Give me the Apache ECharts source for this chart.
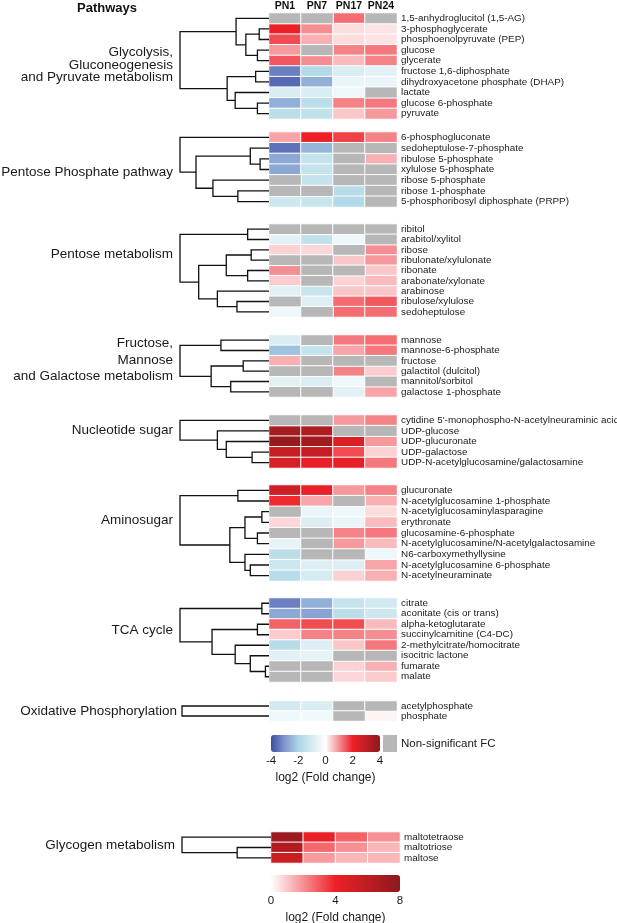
<!DOCTYPE html>
<html><head><meta charset="utf-8">
<script src="https://cdn.jsdelivr.net/npm/echarts@6/dist/echarts.min.js"></script>
<style>html,body{margin:0;padding:0;background:#fff}#c{width:617px;height:923px}</style>
</head><body><div id="c"></div>
<script>
const columns = ['PN1','PN7','PN17','PN24'];
const fcTicks = [-4,-2,0,2,4];
const glycogenTicks = [0,4,8];

const glycolysisNames = ['1,5-anhydroglucitol (1,5-AG)','3-phosphoglycerate','phosphoenolpyruvate (PEP)','glucose','glycerate','fructose 1,6-diphosphate','dihydroxyacetone phosphate (DHAP)','lactate','glucose 6-phosphate','pyruvate'];
const glycolysisFC = [
 [null,null,1.3,null],[2.0,1.0,0.3,0.25],[1.6,0.7,0.3,0.25],[0.9,null,1.1,1.2],[1.5,1.0,0.6,1.1],
 [-3.3,-1.8,-0.9,-0.7],[-3.6,-2.6,-0.5,-0.5],[-0.9,-0.9,-0.4,null],[-2.6,-1.6,1.1,1.2],[-1.6,-1.5,0.5,0.9]];
const glycolysisTree = [[1,2,0.11],[3,4,0.13],[10,11,0.26],[0,12,0.37],[5,6,0.15],[8,9,0.13],[7,15,0.38],[14,16,0.47],[13,17,1.0]];

const pppNames = ['6-phosphogluconate','sedoheptulose-7-phosphate','ribulose 5-phosphate','xylulose 5-phosphate','ribose 5-phosphate','ribose 1-phosphate','5-phosphoribosyl diphosphate (PRPP)'];
const pppFC = [[0.8,2.0,1.7,1.1],[-3.5,-2.5,null,null],[-2.7,-1.4,null,0.7],[-2.7,-1.4,null,null],[null,-1.4,null,null],[null,null,-1.7,null],[-1.2,-1.3,-1.8,null]];
const pppTree = [[2,3,0.10],[1,7,0.21],[5,6,0.35],[4,9,0.63],[8,10,0.82],[0,11,1.0]];

const pentoseNames = ['ribitol','arabitol/xylitol','ribose','ribulonate/xylulonate','ribonate','arabonate/xylonate','arabinose','ribulose/xylulose','sedoheptulose'];
const pentoseFC = [[null,null,null,null],[-0.7,-1.5,-0.4,null],[0.4,0.35,null,1.0],[null,null,0.5,0.9],[1.0,null,null,0.5],[0.45,null,0.4,0.6],[-0.7,-1.3,0.5,0.5],[null,-0.8,1.3,1.5],[-0.4,null,1.3,1.3]];
const pentoseTree = [[0,1,0.24],[2,3,0.20],[4,5,0.24],[10,11,0.48],[7,8,0.36],[6,13,0.58],[12,14,0.79],[9,15,1.0]];

const fructoseNames = ['mannose','mannose-6-phosphate','fructose','galactitol (dulcitol)','mannitol/sorbitol','galactose 1-phosphate'];
const fructoseFC = [[-0.9,null,1.2,1.3],[-2.3,-1.4,0.8,1.2],[0.7,null,null,null],[null,null,1.1,0.45],[-0.7,-0.9,-0.4,null],[null,null,-0.7,0.8]];
const fructoseTree = [[0,1,0.54],[2,3,0.29],[4,5,0.43],[7,8,0.65],[6,9,1.0]];

const nucleotideNames = ["cytidine 5'-monophospho-N-acetylneuraminic acid",'UDP-glucose','UDP-glucuronate','UDP-galactose','UDP-N-acetylglucosamine/galactosamine'];
const nucleotideFC = [[null,null,0.9,1.1],[3.5,3.3,null,null],[3.8,3.6,2.4,0.9],[2.9,2.9,1.6,0.4],[2.5,2.1,2.2,1.2]];
const nucleotideTree = [[3,4,0.19],[2,5,0.48],[1,6,0.58],[0,7,1.0]];

const aminoNames = ['glucuronate','N-acetylglucosamine 1-phosphate','N-acetylglucosaminylasparagine','erythronate','glucosamine-6-phosphate','N-acetylglucosamine/N-acetylgalactosamine','N6-carboxymethyllysine','N-acetylglucosamine 6-phosphate','N-acetylneuraminate'];
const aminoFC = [[2.7,2.1,0.9,1.1],[1.9,0.8,null,0.7],[null,-0.5,-0.4,0.3],[0.35,-0.8,-0.5,0.6],[null,null,1.1,1.2],[-0.6,null,0.9,0.6],[-1.6,null,null,-0.4],[-1.2,-0.8,-0.8,0.8],[-1.7,-1.0,0.4,0.7]];
const aminoTree = [[0,1,0.35],[2,3,0.08],[4,5,0.13],[10,11,0.27],[7,8,0.21],[6,13,0.27],[12,14,0.44],[9,15,1.0]];

const tcaNames = ['citrate','aconitate (cis or trans)','alpha-ketoglutarate','succinylcarnitine (C4-DC)','2-methylcitrate/homocitrate','isocitric lactone','fumarate','malate'];
const tcaFC = [[-3.3,-2.6,-1.4,-1.1],[-2.7,-2.8,-1.6,-1.2],[1.4,1.6,1.6,0.6],[0.45,1.1,1.1,1.0],[-1.7,-0.8,0.5,1.2],[-0.7,-0.6,null,null],[null,null,0.4,0.7],[null,null,0.35,0.45]];
const tcaTree = [[0,1,0.08],[2,3,0.13],[6,7,0.04],[5,10,0.21],[4,11,0.38],[9,12,0.64],[8,13,1.0]];

const oxphosNames = ['acetylphosphate','phosphate'];
const oxphosFC = [[-1.1,-0.9,null,null],[-0.4,-0.3,null,0.1]];
const oxphosTree = [[0,1,1.0]];

const glycogenNames = ['maltotetraose','maltotriose','maltose'];
const glycogenFC = [[7.3,4.2,2.8,2.0],[6.5,2.7,2.0,1.3],[5.5,1.8,1.3,1.3]];
const glycogenTree = [[1,2,0.38],[0,3,1.0]];

const groupTitles = [
 ['Glycolysis,','Gluconeogenesis','and Pyruvate metabolism'],
 ['Pentose Phosphate pathway'],['Pentose metabolism'],
 ['Fructose,','Mannose','and Galactose metabolism'],
 ['Nucleotide sugar'],['Aminosugar'],['TCA cycle'],['Oxidative Phosphorylation'],['Glycogen metabolism']];

const groups = [
 {names:glycolysisNames, fc:glycolysisFC, tree:glycolysisTree},
 {names:pppNames, fc:pppFC, tree:pppTree},
 {names:pentoseNames, fc:pentoseFC, tree:pentoseTree},
 {names:fructoseNames, fc:fructoseFC, tree:fructoseTree},
 {names:nucleotideNames, fc:nucleotideFC, tree:nucleotideTree},
 {names:aminoNames, fc:aminoFC, tree:aminoTree},
 {names:tcaNames, fc:tcaFC, tree:tcaTree},
 {names:oxphosNames, fc:oxphosFC, tree:oxphosTree},
 {names:glycogenNames, fc:glycogenFC, tree:glycogenTree}];

// layout only
const layout = [
 {top:13, bottom:119, root:180, hl:269, hw:128, titleY:[52,65,77], titleX:173},
 {top:132, bottom:207, root:180, hl:269, hw:128, titleY:[172], titleX:173},
 {top:224, bottom:317, root:180, hl:269, hw:128, titleY:[254], titleX:173},
 {top:335, bottom:397, root:180, hl:269, hw:128, titleY:[343,360,376], titleX:173},
 {top:415, bottom:468, root:180, hl:269, hw:128, titleY:[430], titleX:173},
 {top:485, bottom:581, root:180, hl:269, hw:128, titleY:[520], titleX:173},
 {top:598, bottom:682, root:180, hl:269, hw:128, titleY:[630], titleX:173},
 {top:701, bottom:721, root:182, hl:269, hw:128, titleY:[711], titleX:177},
 {top:832, bottom:863, root:182, hl:271, hw:129, titleY:[845], titleX:175}];

const FONT = '"Liberation Sans", Arial, Helvetica, sans-serif';
const grid = [], xAxis = [], yAxis = [], series = [], graphic = [];
const mainColored = [], glyColored = [], grayIdx = [];

function segments(n, merges){
  const pos = [];
  for (let i=0;i<n;i++) pos.push({y:i,h:0});
  const segs = [];
  merges.forEach(([a,b,h])=>{
    const A=pos[a], B=pos[b];
    segs.push([A.h,A.y,B.h,B.y,h]);
    pos.push({y:(A.y+B.y)/2, h:h});
  });
  return segs;
}

groups.forEach((g, gi)=>{
  const L = layout[gi];
  const n = g.names.length;
  const gh = L.bottom - L.top;
  const hg = grid.length;
  grid.push({left:L.hl, width:L.hw, top:L.top, height:gh, containLabel:false, outerBoundsMode:'none'});
  xAxis.push({type:'category', gridIndex:hg, data:columns, position:'top',
    show: gi===0, axisLine:{show:false}, axisTick:{show:false}, splitLine:{show:false},
    axisLabel:{show: gi===0, interval:0, fontFamily:FONT, fontWeight:'bold', fontSize:10.5, color:'#111', margin:1}});
  yAxis.push({type:'category', gridIndex:hg, data:g.names, inverse:true, position:'right',
    axisLine:{show:false}, axisTick:{show:false}, splitLine:{show:false},
    axisLabel:{interval:0, fontFamily:FONT, fontSize:9.9, color:'#1a1a1a', margin:4}});
  const colored = [], gray = [];
  g.fc.forEach((row, r)=>row.forEach((v, c)=>{
    if (v === null) gray.push([c, r, 0]); else colored.push([c, r, v]);
  }));
  const common = {type:'heatmap', xAxisIndex:hg, yAxisIndex:hg,
    itemStyle:{borderColor:'#fff', borderWidth:1}, emphasis:{disabled:true}, label:{show:false}};
  if (gi===8) glyColored.push(series.length); else mainColored.push(series.length);
  series.push(Object.assign({data:colored}, common));
  grayIdx.push(series.length);
  series.push(Object.assign({data:gray}, common));
  const dg = grid.length;
  grid.push({left:L.root, width:L.hl - L.root, top:L.top, height:gh, outerBoundsMode:'none'});
  xAxis.push({type:'value', gridIndex:dg, min:0, max:1, inverse:true, show:false});
  yAxis.push({type:'value', gridIndex:dg, min:-0.5, max:n-0.5, inverse:true, show:false});
  series.push({type:'custom', xAxisIndex:dg, yAxisIndex:dg, data:segments(n, g.tree),
    encode:{x:[0,2,4], y:[1,3]}, silent:true, clip:false,
    renderItem:(params, api)=>{
      const hA=api.value(0), yA=api.value(1), hB=api.value(2), yB=api.value(3), h=api.value(4);
      const pts=[api.coord([hA,yA]), api.coord([h,yA]), api.coord([h,yB]), api.coord([hB,yB])];
      return {type:'polyline', shape:{points:pts}, style:{stroke:'#111', lineWidth:1.3, fill:null}};
    }});
  groupTitles[gi].forEach((t, k)=>{
    graphic.push({type:'text', x:L.titleX, y:L.titleY[k], silent:true,
      style:{text:t, align:'right', verticalAlign:'middle', textAlign:'right', textVerticalAlign:'middle',
        font:'13.5px ' + FONT, fill:'#1a1a1a'}});
  });
});

const cb1 = grid.length;
grid.push({left:271, width:109, top:735, height:17, outerBoundsMode:'none'});
xAxis.push({type:'value', gridIndex:cb1, min:-4, max:4, interval:2, position:'bottom',
  axisLine:{show:false}, axisTick:{show:false}, splitLine:{show:false},
  axisLabel:{fontFamily:FONT, fontSize:11.5, color:'#1a1a1a', margin:3,
    customValues: fcTicks, formatter:v=>String(v)},
  name:'log2 (Fold change)', nameLocation:'middle', nameGap:20,
  nameTextStyle:{fontFamily:FONT, fontSize:12, color:'#1a1a1a'}});
yAxis.push({type:'value', gridIndex:cb1, show:false, min:0, max:1});
const cb2 = grid.length;
grid.push({left:271, width:129, top:875, height:17, outerBoundsMode:'none'});
xAxis.push({type:'value', gridIndex:cb2, min:0, max:8, interval:4, position:'bottom',
  axisLine:{show:false}, axisTick:{show:false}, splitLine:{show:false},
  axisLabel:{fontFamily:FONT, fontSize:11.5, color:'#1a1a1a', margin:3,
    customValues: glycogenTicks, formatter:v=>String(v)},
  name:'log2 (Fold change)', nameLocation:'middle', nameGap:20,
  nameTextStyle:{fontFamily:FONT, fontSize:12, color:'#1a1a1a'}});
yAxis.push({type:'value', gridIndex:cb2, show:false, min:0, max:1});

graphic.push({type:'text', x:107, y:8, silent:true,
  style:{text:'Pathways', align:'center', verticalAlign:'middle', textAlign:'center', textVerticalAlign:'middle',
    font:'bold 13px ' + FONT, fill:'#111'}});
graphic.push({type:'rect', shape:{x:383, y:735, width:14, height:17}, style:{fill:'#b7b7b7'}, silent:true});
graphic.push({type:'text', x:401, y:744, silent:true,
  style:{text:'Non-significant FC', align:'left', verticalAlign:'middle', textAlign:'left', textVerticalAlign:'middle',
    font:'11.5px ' + FONT, fill:'#1a1a1a'}});

const option = {
  animation:false, backgroundColor:'#fff',
  grid, xAxis, yAxis, series, graphic,
  visualMap:[
    {type:'continuous', seriesIndex:mainColored, min:-4, max:4, orient:'horizontal',
     left:271, top:735, itemWidth:17, itemHeight:109, padding:0, calculable:false, hoverLink:false,
     inRange:{color:['#3c4da0','#7f96cf','#abd6e6','#d5ebf2','#ffffff','#f58e92','#ee2027','#bf1e24','#8b1a1e']}},
    {type:'continuous', seriesIndex:glyColored, min:0, max:8, orient:'horizontal',
     left:271, top:875, itemWidth:17, itemHeight:129, padding:0, calculable:false, hoverLink:false,
     inRange:{color:['#ffffff','#ee2027','#8b1a1e']}},
    {type:'continuous', seriesIndex:grayIdx, min:0, max:1, show:false,
     inRange:{color:['#b7b7b7','#b7b7b7']}}
  ]
};
const chart = echarts.init(document.getElementById('c'), null, {renderer:'canvas', width:617, height:923});
chart.setOption(option);
</script></body></html>
